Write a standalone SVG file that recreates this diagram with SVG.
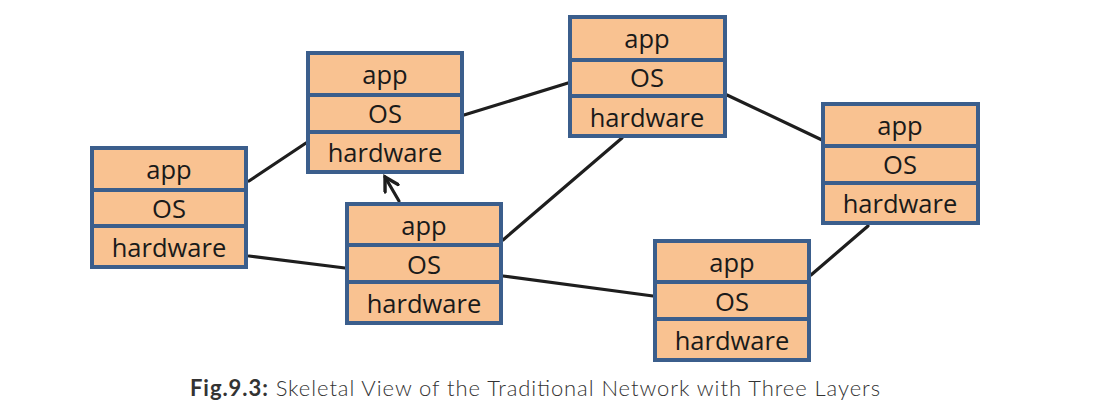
<svg xmlns="http://www.w3.org/2000/svg" width="1115" height="415" viewBox="0 0 1115 415">
<style>
.box{fill:#f9c291;stroke:#3b5e8c;stroke-width:4}
.div{stroke:#3b5e8c;stroke-width:4}
.lbl{font-family:"Open Sans","Noto Sans",sans-serif;font-size:25.5px;fill:#1a1a1a;text-anchor:middle}
.conn{stroke:#1e1e1e;stroke-width:3.2;fill:none;stroke-linecap:round}
.cap{font-family:Lato,"Open Sans",sans-serif;font-size:22px;fill:#333}
</style>
<defs>
<marker id="arr" viewBox="0 0 18 18" refX="15" refY="9" markerWidth="18" markerHeight="18" markerUnits="userSpaceOnUse" orient="auto">
<path d="M2,1.5 L15,9 L2,16.5" fill="none" stroke="#1e1e1e" stroke-width="3.4" stroke-linecap="round" stroke-linejoin="miter"/>
</marker>
</defs>
<rect width="1115" height="415" fill="#fff"/>
<g id="connectors">
<line class="conn" x1="249" y1="181" x2="306" y2="143"/>
<line class="conn" x1="249" y1="256" x2="345" y2="268"/>
<line class="conn" x1="464" y1="115" x2="568" y2="83"/>
<line class="conn" x1="503" y1="240" x2="622" y2="138"/>
<line class="conn" x1="503" y1="276" x2="653" y2="296"/>
<line class="conn" x1="727" y1="95" x2="822" y2="140"/>
<line class="conn" x1="811" y1="275" x2="868" y2="226"/>
<line class="conn" x1="399" y1="201" x2="385" y2="177" marker-end="url(#arr)"/>
</g>
<g id="node1">
<rect class="box" x="92" y="148" width="154" height="119"/>
<line class="div" x1="92" y1="190" x2="246" y2="190"/>
<line class="div" x1="92" y1="226" x2="246" y2="226"/>
<text class="lbl" x="169" y="179">app</text>
<text class="lbl" x="169" y="218">OS</text>
<text class="lbl" x="169" y="257">hardware</text>
</g>
<g id="node2">
<rect class="box" x="308" y="53" width="154" height="119"/>
<line class="div" x1="308" y1="95" x2="462" y2="95"/>
<line class="div" x1="308" y1="132" x2="462" y2="132"/>
<text class="lbl" x="385" y="84">app</text>
<text class="lbl" x="385" y="123">OS</text>
<text class="lbl" x="385" y="162">hardware</text>
</g>
<g id="node3">
<rect class="box" x="347" y="204" width="154" height="119"/>
<line class="div" x1="347" y1="245" x2="501" y2="245"/>
<line class="div" x1="347" y1="282" x2="501" y2="282"/>
<text class="lbl" x="424" y="235">app</text>
<text class="lbl" x="424" y="274">OS</text>
<text class="lbl" x="424" y="313">hardware</text>
</g>
<g id="node4">
<rect class="box" x="570" y="17" width="155" height="119"/>
<line class="div" x1="570" y1="60" x2="725" y2="60"/>
<line class="div" x1="570" y1="96" x2="725" y2="96"/>
<text class="lbl" x="647" y="48">app</text>
<text class="lbl" x="647" y="87">OS</text>
<text class="lbl" x="647" y="127">hardware</text>
</g>
<g id="node5">
<rect class="box" x="655" y="241" width="154" height="119"/>
<line class="div" x1="655" y1="282" x2="809" y2="282"/>
<line class="div" x1="655" y1="319" x2="809" y2="319"/>
<text class="lbl" x="732" y="272">app</text>
<text class="lbl" x="732" y="311">OS</text>
<text class="lbl" x="732" y="350">hardware</text>
</g>
<g id="node6">
<rect class="box" x="823" y="104" width="155" height="119"/>
<line class="div" x1="823" y1="146" x2="978" y2="146"/>
<line class="div" x1="823" y1="183" x2="978" y2="183"/>
<text class="lbl" x="900" y="135">app</text>
<text class="lbl" x="900" y="174">OS</text>
<text class="lbl" x="900" y="213">hardware</text>
</g>
<text class="cap" x="190" y="396" textLength="690" lengthAdjust="spacing"><tspan font-weight="bold">Fig.9.3:</tspan><tspan font-weight="300"> Skeletal View of the Traditional Network with Three Layers</tspan></text>
</svg>
